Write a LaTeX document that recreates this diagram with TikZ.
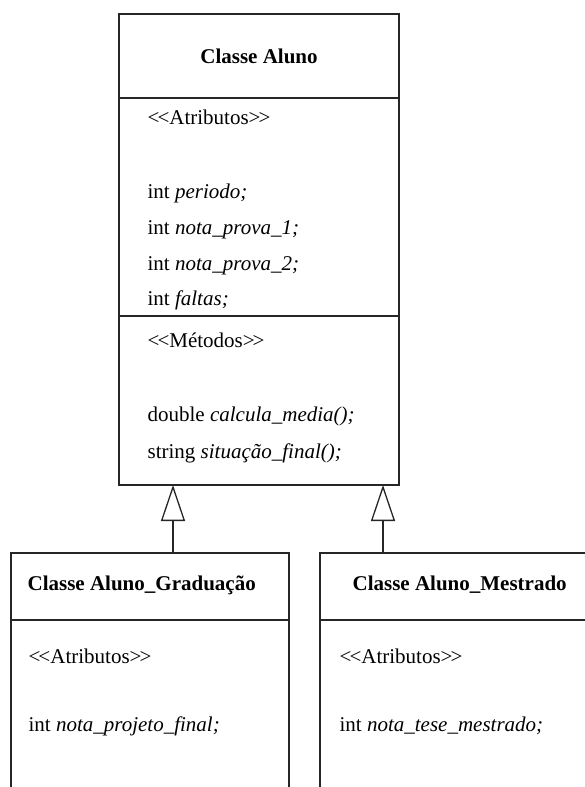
\documentclass[tikz,border=0pt]{standalone}
\usepackage{fontspec}
\setmainfont{Liberation Serif}
\usetikzlibrary{arrows.meta}
\definecolor{linec}{HTML}{262626}
\newcommand{\stereo}[1]{{<}\kern-2pt{<}#1{>}\kern-2pt{>}}
\begin{document}
\begin{tikzpicture}[x=1pt,y=-1pt,line width=1.3pt,
  comp/.style 2 args={draw=linec,rectangle,inner sep=0pt,minimum width=#1,minimum height=#2},
  txt/.style={anchor=base west,inner sep=0pt,font=\fontsize{21}{25}\selectfont,text=black},
  ttl/.style={anchor=base west,inner sep=0pt,font=\fontsize{21}{25}\selectfont\bfseries,text=black},
  inh/.style={draw=linec,-{Triangle[open,length=36pt,width=24pt,fill=white]}}]
\useasboundingbox (0,0) rectangle (585,787);
\clip (0,0) rectangle (585,787);
% Classe Aluno
\node[comp={280pt}{84pt}] (a1) at (259,56) {};
\node[comp={280pt}{218pt}] (a2) at (259,207) {};
\node[comp={280pt}{169pt}] (a3) at (259,400.5) {};
\node[ttl,anchor=base] (at) at (259,63) {Classe Aluno};
\node[txt] (aa) at (147,124) {\stereo{Atributos}};
\node[txt] (ap1) at (147,198) {int \textit{periodo;}};
\node[txt] (ap2) at (147,234) {int \textit{nota\_prova\_1;}};
\node[txt] (ap3) at (147,270) {int \textit{nota\_prova\_2;}};
\node[txt] (ap4) at (147,305) {int \textit{faltas;}};
\node[txt] (am) at (147,347) {\stereo{Métodos}};
\node[txt] (am1) at (147,421) {double \textit{calcula\_media();}};
\node[txt] (am2) at (147,458) {string \textit{situação\_final();}};
% Classe Aluno_Graduacao
\node[comp={278pt}{67pt}] (g1) at (150,586.5) {};
\node[comp={278pt}{200pt}] (g2) at (150,720) {};
\node[ttl] (gt) at (27,590) {Classe Aluno\_Graduação};
\node[txt] (ga) at (28,663) {\stereo{Atributos}};
\node[txt] (gp) at (28,731) {int \textit{nota\_projeto\_f{}inal;}};
% Classe Aluno_Mestrado
\node[comp={300pt}{67pt}] (m1) at (470,586.5) {};
\node[comp={300pt}{200pt}] (m2) at (470,720) {};
\node[ttl] (mt) at (352,590) {Classe Aluno\_Mestrado};
\node[txt] (ma) at (339,663) {\stereo{Atributos}};
\node[txt] (mp) at (339,731) {int \textit{nota\_tese\_mestrado;}};
% inheritance
\coordinate (p1) at (173,485);
\coordinate (p2) at (383,485);
\draw[inh] (g1.north -| p1) -- (p1);
\draw[inh] (m1.north -| p2) -- (p2);
\end{tikzpicture}
\end{document}
